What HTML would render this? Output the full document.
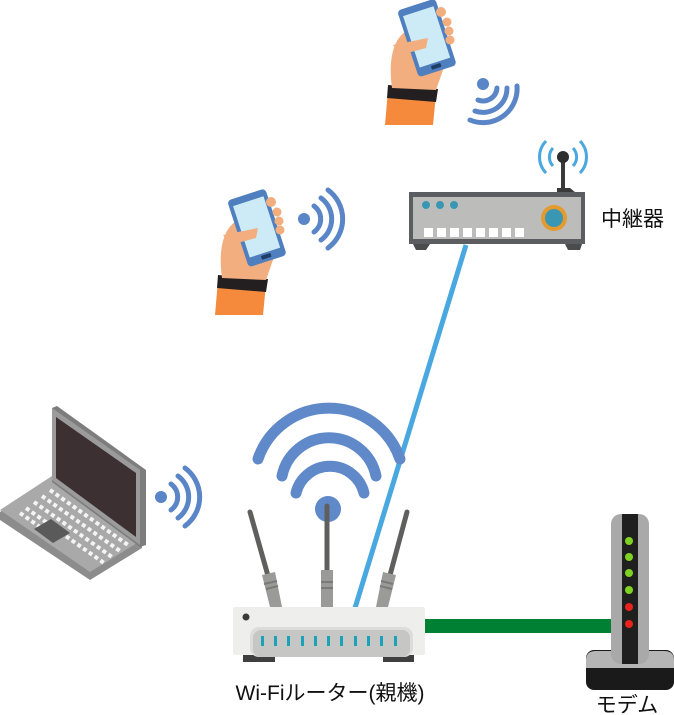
<!DOCTYPE html>
<html><head><meta charset="utf-8"><style>
html,body{margin:0;padding:0;background:#fff;}
svg{display:block}
text{font-family:"Liberation Sans","Noto Sans CJK JP",sans-serif;fill:#111}
</style></head><body>
<svg width="674" height="715" viewBox="0 0 674 715" xmlns="http://www.w3.org/2000/svg">
<defs>
<g id="hand">
  <path d="M0 90 L48 94 L45 125 L-3 125 Z" fill="#f58a3c"/>
  <path d="M0 85 L50 89 L48 102 L-1 98 Z" fill="#231f20"/>
  <path d="M4 88 C0 60 5 38 20 30 L45 25 L62 40 L55 70 L48 90 Z" fill="#f2ae7e"/>
  <g transform="translate(38,35) rotate(-18)">
    <rect x="-20" y="-32" width="40" height="70" rx="4" fill="#4f7fbf"/>
    <rect x="-16" y="-25" width="32" height="54" fill="#cdeaf7"/>
    <rect x="-5" y="31" width="10" height="4" rx="1" fill="#1f3d66"/>
  </g>
  <circle cx="53" cy="12" r="5" fill="#f2ae7e"/>
  <circle cx="59" cy="22" r="4.5" fill="#f2ae7e"/>
  <circle cx="61" cy="31" r="4.5" fill="#f2ae7e"/>
  <circle cx="62" cy="40" r="4.5" fill="#f2ae7e"/>
  <path d="M5 45 L40 38 L38 48 L12 55 Z" fill="#f2ae7e"/>
</g>
</defs>

<line x1="466" y1="245" x2="355" y2="608" stroke="#4aa8e0" stroke-width="5"/>
<rect x="424" y="619" width="190" height="14" fill="#008033"/>

<g transform="translate(388,0)"><use href="#hand"/></g>
<g fill="none" stroke="#5a85c6" stroke-width="5" stroke-linecap="round">
  <circle cx="483" cy="84" r="6" fill="#5a85c6" stroke="none"/>
  <path d="M497 88 A14 14 0 0 1 478 100"/>
  <path d="M507 88 A24 24 0 0 1 475 111"/>
  <path d="M517 86 A34 34 0 0 1 470 120"/>
</g>

<g transform="translate(218,190)"><use href="#hand"/></g>
<g fill="none" stroke="#5a85c6" stroke-width="5" stroke-linecap="round">
  <circle cx="304" cy="219" r="6" fill="#5a85c6" stroke="none"/>
  <path d="M314 206 A16 16 0 0 1 314 232"/>
  <path d="M321 198 A26 26 0 0 1 321 240"/>
  <path d="M328 190 A36 36 0 0 1 328 248"/>
</g>

<g fill="none" stroke="#4aa8e0" stroke-width="3">
  <path d="M553 148 A13 13 0 0 0 553 166"/><path d="M573 148 A13 13 0 0 1 573 166"/>
  <path d="M546 141 A23 23 0 0 0 546 173"/><path d="M580 141 A23 23 0 0 1 580 173"/>
</g>
<rect x="561" y="157" width="4" height="32" fill="#3a3a3a"/>
<circle cx="563" cy="157" r="6" fill="#2d2d2d"/>
<path d="M557 188 L570 188 L576 193 L557 193 Z" fill="#3a3a3a"/>
<rect x="409" y="192" width="176" height="52" fill="#5b5d60"/>
<rect x="413" y="197" width="168" height="42" fill="#bcbdbb"/>
<path d="M413 244 L430 244 L426 250 L416 250 Z M565 244 L582 244 L580 250 L568 250Z" fill="#4a4b4d"/>
<circle cx="426" cy="205" r="4" fill="#3a97b4"/><circle cx="440" cy="205" r="4" fill="#3a97b4"/><circle cx="454" cy="205" r="4" fill="#3a97b4"/>
<g fill="#fff">
  <rect x="424" y="228" width="9" height="9"/><rect x="437" y="228" width="9" height="9"/><rect x="450" y="228" width="9" height="9"/><rect x="463" y="228" width="9" height="9"/><rect x="476" y="228" width="9" height="9"/><rect x="489" y="228" width="9" height="9"/><rect x="502" y="228" width="9" height="9"/><rect x="515" y="228" width="9" height="9"/>
</g>
<circle cx="554" cy="218" r="13" fill="#e59a2e"/>
<circle cx="554" cy="218" r="9" fill="#3a97b4"/>
<text x="601" y="226" font-size="21">中継器</text>

<path d="M52 478 L0 512 L0 520 L90 580 L142 548 L142 540 Z" fill="#8c8c8c"/>
<path d="M52 476 L0 510 L90 572 L142 540 Z" fill="#a9a9a9"/>
<path d="M52 408 L57 406 L146 470 L146 545 L140 547 L52 482 Z" fill="#7d7d7d"/>
<path d="M52 408 L140 470 L140 545 L52 480 Z" fill="#9b9b9b"/>
<path d="M56 417 L136 473 L136 537 L56 478 Z" fill="#3c3033"/>
<g stroke="#f4f4f4" stroke-width="4" stroke-dasharray="4 3">
  <line x1="50" y1="490" x2="128" y2="545"/>
  <line x1="42" y1="496" x2="120" y2="551"/>
  <line x1="34" y1="502" x2="112" y2="557"/>
  <line x1="26" y1="508" x2="104" y2="563"/>
  <line x1="20" y1="513" x2="60" y2="541"/>
</g>
<path d="M34 529 L51 519 L70 533 L53 543 Z" fill="#5a5a5a"/>
<g fill="none" stroke="#5a85c6" stroke-width="5" stroke-linecap="round">
  <circle cx="161" cy="497" r="6" fill="#5a85c6" stroke="none"/>
  <path d="M171 484 A16 16 0 0 1 171 510"/>
  <path d="M178 476 A26 26 0 0 1 178 518"/>
  <path d="M185 468 A36 36 0 0 1 185 526"/>
</g>

<g fill="none" stroke="#5f89c8" stroke-width="11" stroke-linecap="round">
  <path d="M296 493 A35 35 0 0 1 364 493"/>
  <path d="M282 476 A48 48 0 0 1 376 476"/>
  <path d="M258 459 A75 75 0 0 1 400 459"/>
</g>
<circle cx="328" cy="509" r="13" fill="#5f89c8"/>
<g stroke-linecap="round">
  <line x1="250" y1="512" x2="272" y2="590" stroke="#5f5f5d" stroke-width="5"/>
  <line x1="327" y1="506" x2="327" y2="590" stroke="#5f5f5d" stroke-width="5"/>
  <line x1="407" y1="512" x2="386" y2="590" stroke="#5f5f5d" stroke-width="5"/>
</g>
<path d="M262 575 L275 572 L282 607 L270 607 Z" fill="#9a9a98"/>
<rect x="321" y="570" width="12" height="37" fill="#9a9a98"/>
<path d="M383 572 L396 575 L388 607 L376 607 Z" fill="#9a9a98"/>
<g stroke="#7a7a78" stroke-width="2">
  <line x1="264" y1="584" x2="277" y2="581"/><line x1="266" y1="589" x2="278" y2="586"/>
  <line x1="321" y1="582" x2="333" y2="582"/><line x1="321" y1="588" x2="333" y2="588"/>
  <line x1="381" y1="581" x2="393" y2="584"/><line x1="380" y1="586" x2="392" y2="589"/>
</g>
<rect x="243" y="653" width="32" height="9" fill="#3f3f3f"/>
<rect x="383" y="653" width="31" height="9" fill="#3f3f3f"/>
<rect x="233" y="607" width="192" height="48" rx="2" fill="#eeeeec"/>
<rect x="250" y="627" width="163" height="30" rx="9" fill="#dcdcda"/>
<rect x="253" y="630" width="157" height="27" rx="8" fill="#c6c6c4"/>
<circle cx="246" cy="617" r="3.5" fill="#3a3a3a"/>
<g fill="#1aa3b8">
  <rect x="261" y="636" width="3" height="10"/><rect x="274" y="636" width="3" height="10"/><rect x="287" y="636" width="3" height="10"/><rect x="301" y="636" width="3" height="10"/><rect x="314" y="636" width="3" height="10"/><rect x="327" y="636" width="3" height="10"/><rect x="340" y="636" width="3" height="10"/><rect x="354" y="636" width="3" height="10"/><rect x="367" y="636" width="3" height="10"/><rect x="380" y="636" width="3" height="10"/><rect x="394" y="636" width="3" height="10"/>
</g>
<text x="330" y="700" font-size="21" text-anchor="middle">Wi-Fiルーター(親機)</text>

<rect x="586" y="650" width="88" height="40" rx="8" fill="#1a1a1a"/>
<path d="M586 668 L586 660 Q586 651 596 651 L664 651 Q674 651 674 660 L674 668 Z" fill="#b5b5b5"/>
<rect x="611" y="514" width="38" height="150" rx="10" fill="#a9a9a9"/>
<rect x="622" y="514" width="16" height="150" fill="#1f1f1f"/>
<circle cx="629" cy="541" r="4" fill="#7ed321"/>
<circle cx="629" cy="557" r="4" fill="#7ed321"/>
<circle cx="629" cy="573" r="4" fill="#7ed321"/>
<circle cx="629" cy="590" r="4" fill="#7ed321"/>
<circle cx="629" cy="607" r="4" fill="#e8221c"/>
<circle cx="629" cy="624" r="4" fill="#e8221c"/>
<text x="627" y="712" font-size="21" text-anchor="middle">モデム</text>
</svg>
</body></html>
